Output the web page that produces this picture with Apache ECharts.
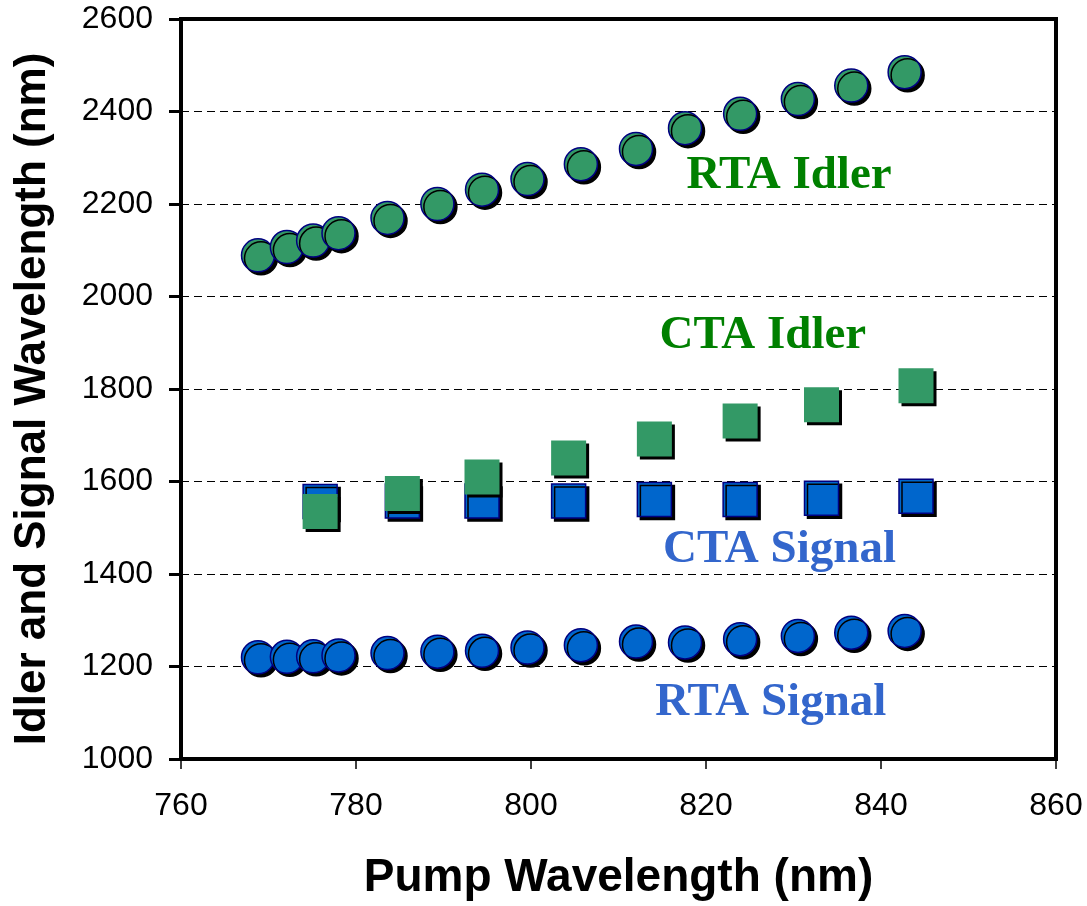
<!DOCTYPE html>
<html>
<head>
<meta charset="utf-8">
<style>
html,body{margin:0;padding:0;background:#fff;}
#chart{width:1087px;height:906px;}
</style>
<script src="https://cdn.jsdelivr.net/npm/echarts@6/dist/echarts.min.js"></script>
</head>
<body>
<div id="chart"></div>
<script>
// Pump wavelengths (nm)
var rtaPump = [768.8, 772.1, 775.1, 778.0, 783.6, 789.3, 794.4, 799.6, 805.7, 812.0, 817.6, 823.9, 830.5, 836.6, 842.7];
var rtaIdler = [2089, 2107, 2121, 2137, 2170, 2200, 2231, 2254, 2286, 2319, 2364, 2395, 2427, 2456, 2485];
var rtaSignal = [1220, 1221, 1222, 1224, 1229, 1232, 1234, 1241, 1246, 1254, 1252, 1259, 1266, 1273, 1277];
var ctaPump = [775.9, 785.3, 794.4, 804.3, 814.1, 823.9, 833.2, 844.0];
var ctaIdler = [1535, 1574, 1610, 1651, 1692, 1731, 1766, 1807];
var ctaSignal = [1557, 1558, 1558, 1558, 1561, 1561, 1564, 1568];
// Text annotations: [x, y, text]
var annotations = [
  [829.5, 2260, 'RTA Idler'],
  [826.5, 1914, 'CTA Idler'],
  [828.4, 1453, 'CTA Signal'],
  [827.4, 1121, 'RTA Signal']
];
var annotationColors = ['#008000', '#008000', '#3366CC', '#3366CC'];
var xTicks = {min: 760, max: 860, interval: 20};
var yTicks = {min: 1000, max: 2600, interval: 200};

function zip(xs, ys) { return xs.map(function (x, i) { return [x, ys[i]]; }); }

var green = '#339966', blue = '#0066CC', navy = '#000080';
var shadow = {shadowColor: '#000', shadowBlur: 0, shadowOffsetX: 3, shadowOffsetY: 3};

var chart = echarts.init(document.getElementById('chart'));
chart.setOption({
  animation: false,
  backgroundColor: '#fff',
  grid: {left: 181, top: 19, right: 31, bottom: 146, show: true, borderColor: '#000', borderWidth: 4, backgroundColor: 'transparent'},
  xAxis: {
    type: 'value', min: xTicks.min, max: xTicks.max, interval: xTicks.interval,
    name: 'Pump Wavelength (nm)', nameLocation: 'middle', nameGap: 96,
    nameTextStyle: {fontFamily: 'Liberation Sans', fontWeight: 'bold', fontSize: 46, color: '#000'},
    axisLine: {show: true, lineStyle: {color: '#000', width: 4}},
    axisTick: {show: true, length: 10, lineStyle: {color: '#000', width: 1.5}},
    axisLabel: {margin: 31, fontFamily: 'Liberation Sans', fontSize: 32, color: '#000', formatter: function (v) { return String(v); }},
    splitLine: {show: false}
  },
  yAxis: {
    type: 'value', min: yTicks.min, max: yTicks.max, interval: yTicks.interval,
    name: 'Idler and Signal Wavelength (nm)', nameLocation: 'middle', nameGap: 126,
    nameTextStyle: {fontFamily: 'Liberation Sans', fontWeight: 'bold', fontSize: 44, color: '#000', padding: [0, 20, 0, 0]},
    axisLine: {show: true, lineStyle: {color: '#000', width: 4}},
    axisTick: {show: true, length: 12, lineStyle: {color: '#000', width: 3}},
    axisLabel: {margin: 28, fontFamily: 'Liberation Sans', fontSize: 32, color: '#000', formatter: function (v) { return String(v); }},
    splitLine: {show: true, lineStyle: {color: '#000', width: 1, type: [8, 5]}}
  },
  series: [
    {name: 'RTA Signal', type: 'scatter', symbol: 'circle', symbolSize: 33, data: zip(rtaPump, rtaSignal),
     itemStyle: Object.assign({color: blue, borderColor: navy, borderWidth: 1.5, opacity: 1}, shadow)},
    {name: 'RTA Idler', type: 'scatter', symbol: 'circle', symbolSize: 33, data: zip(rtaPump, rtaIdler),
     itemStyle: Object.assign({color: green, borderColor: navy, borderWidth: 1.5, opacity: 1}, shadow)},
    {name: 'CTA Signal', type: 'scatter', symbol: 'rect', symbolSize: 34, data: zip(ctaPump, ctaSignal),
     itemStyle: Object.assign({color: blue, borderColor: navy, borderWidth: 1.5, opacity: 1}, shadow)},
    {name: 'CTA Idler', type: 'scatter', symbol: 'rect', symbolSize: 35, data: zip(ctaPump, ctaIdler),
     itemStyle: Object.assign({color: green, borderWidth: 0, opacity: 1}, shadow)},
    {name: 'labels', type: 'scatter', symbolSize: 0, silent: true, itemStyle: {opacity: 1},
     data: annotations.map(function (a, i) {
       return {value: [a[0], a[1]], label: {show: true, position: 'inside', formatter: a[2], color: annotationColors[i],
         opacity: 1, fontFamily: 'Liberation Serif', fontWeight: 'bold', fontSize: 47}};
     })}
  ]
});
</script>
</body>
</html>
